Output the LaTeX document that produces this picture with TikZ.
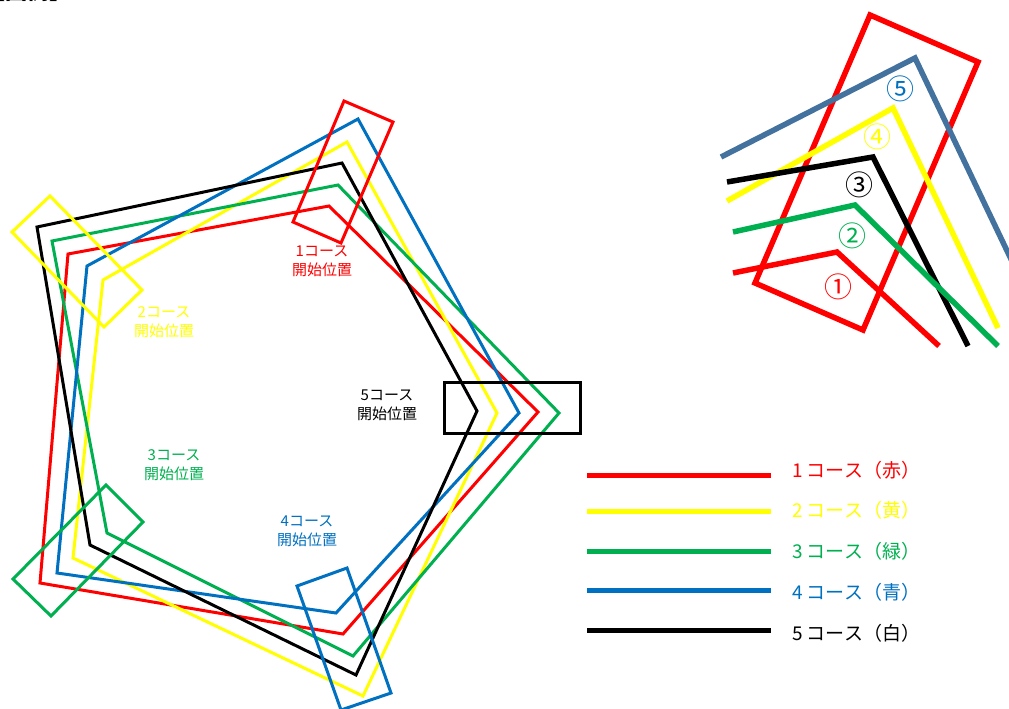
\documentclass[tikz,border=0pt]{standalone}
\usepackage{fontspec}
\newfontfamily\jpsans{Noto Sans CJK JP}

\definecolor{cred}{RGB}{255,0,0}
\definecolor{cyellow}{RGB}{255,255,0}
\definecolor{cgreen}{RGB}{0,176,80}
\definecolor{cblue}{RGB}{0,112,192}
\definecolor{cslate}{RGB}{68,114,158}

\tikzset{
  courseline/.style={line width=3pt, line join=miter},
  startbox/.style={line width=3pt, line join=miter},
  insetline/.style={line width=5.5pt, line join=miter},
  legendline/.style={line width=5pt},
  starttext/.style={font=\jpsans\fontsize{15}{19}\selectfont, align=center, inner sep=0pt},
  legendtext/.style={font=\jpsans\fontsize{19}{19}\selectfont, anchor=west, inner sep=0pt},
  circnum/.style={font=\jpsans\fontsize{28}{28}\selectfont, inner sep=0pt},
}

\begin{document}
\begin{tikzpicture}[x=1pt,y=-1pt]
\useasboundingbox (0,0) rectangle (1009,709);
\clip (0,0) rectangle (1009,709);

% heading, mostly above the top edge
\node[anchor=base east, font=\jpsans\bfseries\fontsize{22}{22}\selectfont, inner sep=0pt] (title) at (72,-0.5) {【図例】};

% five course pentagons
\draw[courseline, cred]    (329,206) -- (538,412) -- (343,634) -- (40,583)  -- (68,254)  -- cycle;
\draw[courseline, cyellow] (347,142) -- (497,413) -- (363,696) -- (73,558)  -- (103,280) -- cycle;
\draw[courseline, cgreen]  (338,185) -- (559,413) -- (353,656) -- (107,533) -- (52,241)  -- cycle;
\draw[courseline, cblue]   (358,119) -- (519,413) -- (336,613) -- (57,573)  -- (87,266)  -- cycle;
\draw[courseline, black]   (342,163) -- (477,411) -- (356,675) -- (90,545)  -- (37,227)  -- cycle;

% start position boxes
\draw[startbox, cred]    (344,101) -- (393,122) -- (341,243) -- (293,222) -- cycle;
\draw[startbox, cyellow] (50,196)  -- (142,290) -- (104,327) -- (12,232)  -- cycle;
\draw[startbox, cgreen]  (106,485) -- (143,522) -- (51,616)  -- (13,579)  -- cycle;
\draw[startbox, cblue]   (297,586) -- (347,568) -- (391,693) -- (341,710) -- cycle;
\draw[startbox, black]   (444,382) rectangle (580,433);

% start position labels
\node[starttext, text=cred]    (s1) at (322,261) {1コース\\開始位置};
\node[starttext, text=cyellow] (s2) at (164,322) {2コース\\開始位置};
\node[starttext, text=cgreen]  (s3) at (174,465) {3コース\\開始位置};
\node[starttext, text=cblue]   (s4) at (307,531) {4コース\\開始位置};
\node[starttext, text=black]   (s5) at (387,405) {5コース\\開始位置};

% legend
\coordinate (a1) at (587,475); \coordinate (b1) at (771,475);
\coordinate (a2) at (587,511); \coordinate (b2) at (771,511);
\coordinate (a3) at (587,551); \coordinate (b3) at (771,551);
\coordinate (a4) at (587,590); \coordinate (b4) at (771,590);
\coordinate (a5) at (587,630); \coordinate (b5) at (771,630);
\draw[legendline, cred]    (a1) -- (b1);
\draw[legendline, cyellow] (a2) -- (b2);
\draw[legendline, cgreen]  (a3) -- (b3);
\draw[legendline, cblue]   (a4) -- (b4);
\draw[legendline, black]   (a5) -- (b5);
\node[legendtext, text=cred]    (l1) at (792,470) {1 コース（赤）};
\node[legendtext, text=cyellow] (l2) at (792,510) {2 コース（黄）};
\node[legendtext, text=cgreen]  (l3) at (792,551) {3 コース（緑）};
\node[legendtext, text=cblue]   (l4) at (792,592) {4 コース（青）};
\node[legendtext, text=black]   (l5) at (792,633) {5 コース（白）};

% corner detail at the start box
\draw[insetline, cred] (870,15) -- (978,62) -- (863,330) -- (755,283) -- cycle;
\draw[insetline, cslate]  (721,157) -- (915,58)  -- (1020,278);
\draw[insetline, cyellow] (727,201) -- (893,108) -- (998,328);
\draw[insetline, black]   (727,182) -- (873,157) -- (968,346);
\draw[insetline, cgreen]  (733,232) -- (855,205) -- (998,346);
\draw[insetline, cred]    (733,273) -- (837,252) -- (939,346);

\node[circnum, text=cblue]   (c5) at (900,89)  {⑤};
\node[circnum, text=cyellow] (c4) at (877,137) {④};
\node[circnum, text=black]   (c3) at (859,185) {③};
\node[circnum, text=cgreen]  (c2) at (852,236) {②};
\node[circnum, text=cred]    (c1) at (838,287) {①};
\end{tikzpicture}
\end{document}
